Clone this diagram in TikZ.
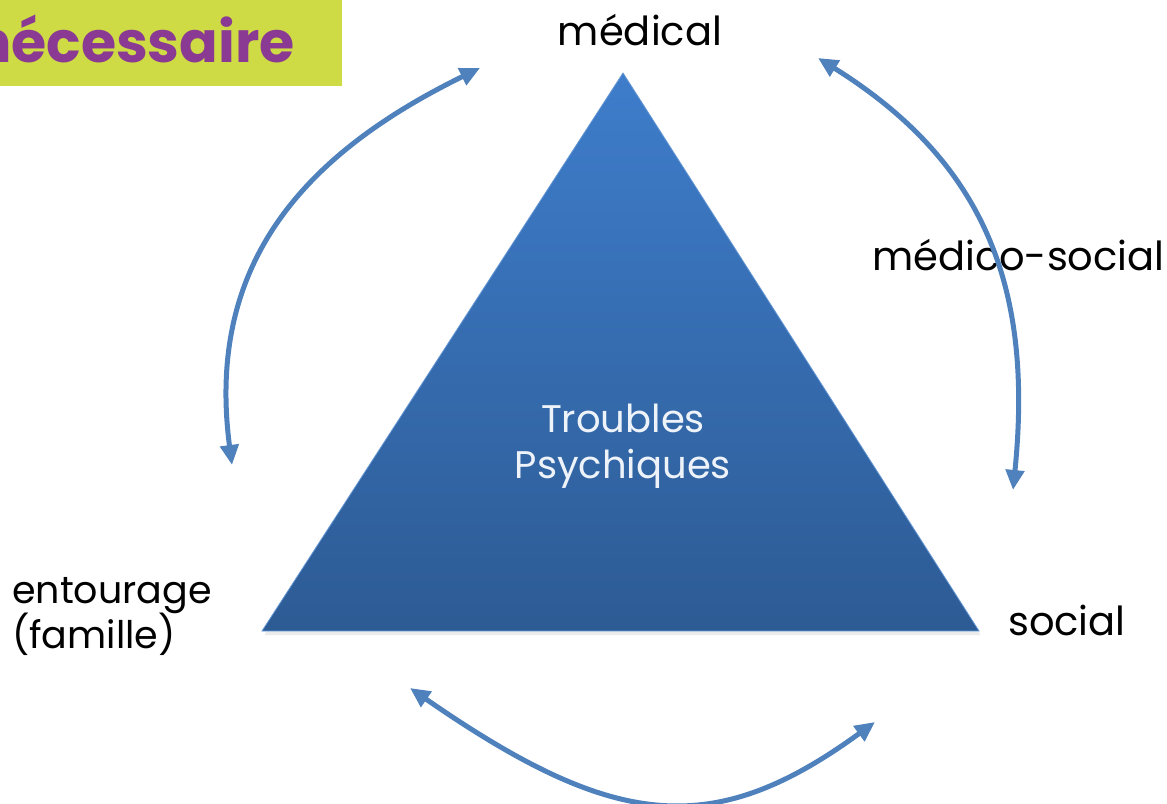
\documentclass[tikz,border=0pt]{standalone}
\usepackage{fontspec}
\setmainfont{Poppins}
\usetikzlibrary{arrows.meta}
\definecolor{arrowblue}{HTML}{4F81BD}
\definecolor{tritop}{HTML}{3E7DCB}
\definecolor{tribot}{HTML}{2D5B94}
\definecolor{bannerbg}{HTML}{CEDB45}
\definecolor{bannertxt}{HTML}{8B3A93}
\definecolor{innertxt}{HTML}{EEF3FA}
\tikzset{
  lbl/.style={inner sep=0pt, text=black, font=\fontsize{40}{46}\selectfont},
  inner/.style={inner sep=0pt, text=innertxt, font=\fontsize{38.5}{44}\selectfont},
  link/.style={draw=arrowblue, line width=5pt, {Triangle[length=20pt,width=18pt]}-{Triangle[length=20pt,width=18pt]}},
}
\begin{document}
\begin{tikzpicture}[x=1pt,y=-1pt]
\useasboundingbox (0,0) rectangle (1167,803);
\fill[white] (0,0) rectangle (1167,803);
% banner
\begin{scope}
\clip (0,0) rectangle (342,86);
\fill[bannerbg] (0,0) rectangle (342,86);
\node[anchor=base east, inner sep=0pt, text=bannertxt, font=\fontsize{57}{64}\selectfont\bfseries] (banner) at (295,62) {nécessaire};
\end{scope}
% triangle shadow
\fill[black!8] (266,632) -- (979,632) -- (980,635) -- (265,635) -- cycle;
% triangle
\coordinate (apex) at (623,73);
\coordinate (bl) at (262,631);
\coordinate (br) at (979,631);
\shade[top color=tritop, bottom color=tribot] (apex) -- (br) -- (bl) -- cycle;
\draw[tritop!80!white, line width=0.8pt] (apex) -- (br) -- (bl) -- cycle;
% inner text
\node[inner, anchor=base] (troubles) at (623,432) {Troubles};
\node[inner, anchor=base] (psy) at (623,478) {Psychiques};
% labels
\node[lbl, anchor=base] (medical) at (640,45) {médical};
\node[lbl, anchor=base west] (medsoc) at (872,270) {médico-social};
\node[lbl, anchor=base west, font=\fontsize{38}{44}\selectfont] (entourage) at (12,603) {entourage};
\node[lbl, anchor=base west, font=\fontsize{38}{44}\selectfont] (famille) at (12,648) {(famille)};
\node[lbl, anchor=base west] (social) at (1008,635) {social};
% arrow end points
\coordinate (a1s) at (232,465);
\coordinate (a1e) at (480,68);
\coordinate (a2s) at (818,58);
\coordinate (a2e) at (1013,490);
\coordinate (a3s) at (410,688);
\coordinate (a3e) at (875,722);
% arrows
\draw[link] (a1s) .. controls (206,267) and (300,156) .. (a1e);
\draw[link] (a2s) .. controls (988,164) and (1033,292) .. (a2e);
\draw[link] (a3s) .. controls (615,830) and (713,840) .. (a3e);
\end{tikzpicture}
\end{document}
